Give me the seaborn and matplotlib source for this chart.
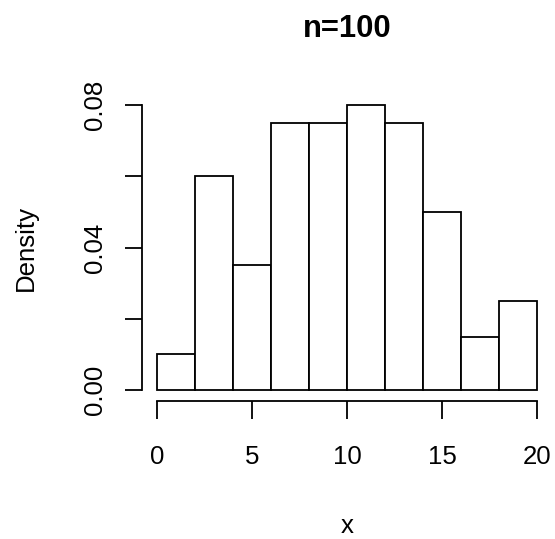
import matplotlib
matplotlib.use('Agg')
import matplotlib.pyplot as plt
import seaborn as sns

# bins and counts (n = 100)
bin_edges = [0, 2, 4, 6, 8, 10, 12, 14, 16, 18, 20]
bin_mids = [1, 3, 5, 7, 9, 11, 13, 15, 17, 19]
counts = [2, 12, 7, 15, 15, 16, 15, 10, 3, 5]

x_ticks = [0, 5, 10, 15, 20]
x_labels = ['0', '5', '10', '15', '20']
y_ticks = [0.0, 0.02, 0.04, 0.06, 0.08]
y_labels = ['0.00', '', '0.04', '', '0.08']

sns.set_style('white')
plt.rcParams['font.family'] = ['Liberation Sans', 'DejaVu Sans']
plt.rcParams['text.color'] = 'black'
plt.rcParams['axes.labelcolor'] = 'black'
plt.rcParams['xtick.color'] = 'black'
plt.rcParams['ytick.color'] = 'black'

W, H = 555, 539
fig = plt.figure(figsize=(W / 100, H / 100), dpi=100)
left, right, top, bottom = 141.8, 552.2, 93.6, 401.4
ax = fig.add_axes([left / W, 1 - bottom / H, (right - left) / W, (bottom - top) / H])

sns.histplot(x=bin_mids, weights=counts, bins=bin_edges, stat='density',
             color='white', edgecolor='black', linewidth=1.3, alpha=1, ax=ax)

ax.set_xlim(-0.8, 20.8)
ax.set_ylim(-0.0032, 0.0832)
ax.set_xticks(x_ticks)
ax.set_xticklabels(x_labels)
ax.set_yticks(y_ticks)
ax.set_yticklabels(y_labels, rotation=90, va='center')

for s in ['top', 'right']:
    ax.spines[s].set_visible(False)
ax.spines['bottom'].set_bounds(0, 20)
ax.spines['left'].set_bounds(0, 0.08)
for s in ['bottom', 'left']:
    ax.spines[s].set_color('black')
    ax.spines[s].set_linewidth(1.3)

ax.tick_params(axis='x', length=12.6, width=1.3, colors='black', pad=18.5,
               labelsize=18.6, direction='out', bottom=True)
ax.tick_params(axis='y', length=12.6, width=1.3, colors='black', pad=12.6,
               labelsize=18.6, direction='out', left=True)

ax.set_xlabel('x', fontsize=18.6, color='black')
ax.xaxis.set_label_coords(0.5, -0.366)
ax.set_ylabel('Density', fontsize=18.6, color='black')
ax.yaxis.set_label_coords(-0.253, 0.5)
ax.set_title('n=100', fontsize=22.3, fontweight='bold', pad=40.7, color='black')

fig.savefig('out.png', dpi=100)
